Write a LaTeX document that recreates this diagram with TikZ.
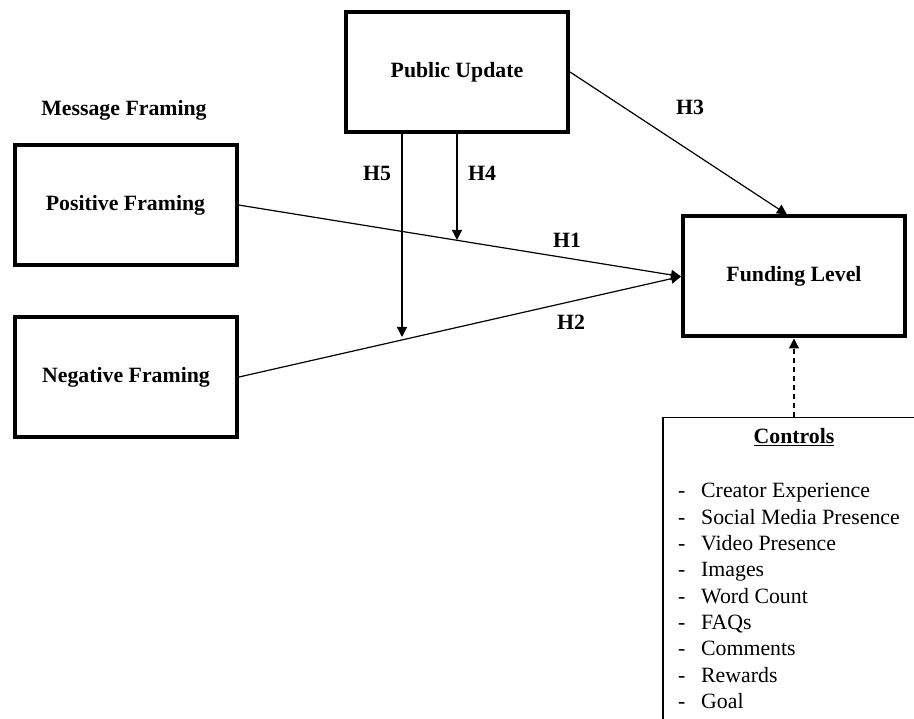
\documentclass[tikz,border=0pt]{standalone}
\usepackage{fontspec}
\setmainfont{Liberation Serif}
\usetikzlibrary{arrows.meta,positioning}

\tikzset{
  varbox/.style={draw,line width=4pt,minimum width=222pt,minimum height=120pt,inner sep=0pt,font=\bfseries\fontsize{21.8}{26.3}\selectfont},
  hyp/.style={inner sep=0pt,font=\bfseries\fontsize{21.8}{26.3}\selectfont},
  ctrlitem/.style={inner sep=0pt,anchor=base west,font=\fontsize{21.8}{26.3}\selectfont},
  link/.style={line width=1.2pt,-{Triangle[length=10pt,width=10pt]}},
}

\begin{document}
\begin{tikzpicture}[x=1pt,y=-1pt]
  %\draw[color=gray,step=10pt,help lines,opacity=0.3] (0,0) grid (914,719); %help grids
  \useasboundingbox (0,0) rectangle (914,719);
  \clip (0,0) rectangle (914,719);
  % boxes
  \node[hyp] (mf) at (124,110) {Message Framing};
  \node[varbox] (pos) at (125.5,205) {Positive Framing};
  \node[varbox] (neg) at (126,377) {Negative Framing};
  \node[varbox] (pub) at (457,72) {Public Update};
  \node[varbox] (fund) at (794,276.5) {Funding Level};
  % controls
  \node[draw,line width=1.5pt,minimum width=262pt,minimum height=330pt,inner sep=0pt,anchor=north] (ctrl) at (794,416.75) {};
  \node[hyp,anchor=base] (ctrltitle) at (794,444) {\underline{Controls}};
  \foreach \lbl [count=\i] in {Creator Experience,Social Media Presence,Video Presence,Images,Word Count,FAQs,Comments,Rewards,Goal}
    \node[ctrlitem] (c\i) at (678,{498+26.3*(\i-1)}) {\makebox[23pt][l]{-}\lbl};
  % moderation points
  \coordinate (m4) at (457,240);
  \coordinate (m5) at (402,337);
  % arrows
  \draw[link] (pos.east) -- (fund.west);
  \draw[link] (neg.east) -- (fund.west);
  \draw[link] (pub.east) -- ([xshift=-7pt]fund.north);
  \draw[link] (pub.south) -- (m4);
  \draw[link] ([xshift=-55pt]pub.south) -- (m5);
  \draw[link,dash pattern=on 5pt off 4pt] (ctrl.north) -- (fund.south);
  % labels
  \node[hyp] (h1) at (567,240) {H1};
  \node[hyp] (h2) at (571,322) {H2};
  \node[hyp] (h3) at (690,107) {H3};
  \node[hyp] (h4) at (482,173) {H4};
  \node[hyp] (h5) at (377,173) {H5};
\end{tikzpicture}
\end{document}
